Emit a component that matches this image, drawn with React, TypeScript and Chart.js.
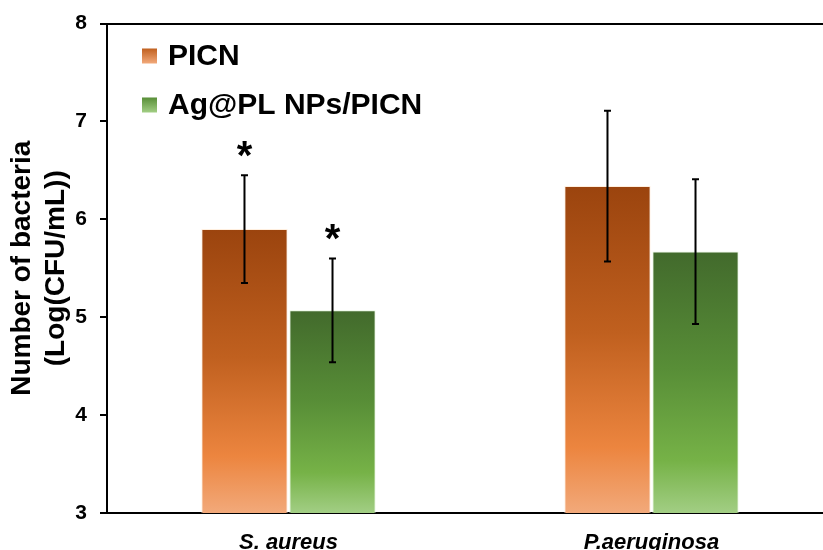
import React, { useEffect, useRef } from "react";
import { Chart, registerables } from "chart.js";

Chart.register(...registerables);

const categories = ["S. aureus", "P.aeruginosa"];
const seriesNames = ["PICN", "Ag@PL NPs/PICN"];
const picnValues = [5.9, 6.34];
const picnErrors = [0.55, 0.77];
const agValues = [5.07, 5.67];
const agErrors = [0.53, 0.74];
const picnMarks = ["*", ""];
const agMarks = ["*", ""];
const yTicks = [3, 4, 5, 6, 7, 8];
const yTitle = ["Number of bacteria", "(Log(CFU/mL))"];

const FONT = "'Liberation Sans', Arial, sans-serif";

const orangeStops: [number, string][] = [
  [0, "#9B440E"],
  [0.45, "#C0601F"],
  [0.8, "#EC853F"],
  [1, "#F2A97A"],
];
const greenStops: [number, string][] = [
  [0, "#426A2C"],
  [0.45, "#588E37"],
  [0.8, "#76B247"],
  [1, "#A2CE84"],
];

function barGradient(ctx: any, stops: [number, string][], fallback: string) {
  const chart = ctx.chart;
  const y = chart.scales && chart.scales.y;
  if (!y || ctx.raw === undefined || ctx.type !== "data") return fallback;
  const top = y.getPixelForValue(ctx.raw);
  const bottom = y.getPixelForValue(y.min);
  if (!isFinite(top) || !isFinite(bottom) || bottom - top < 1) return fallback;
  const g = chart.ctx.createLinearGradient(0, top, 0, bottom);
  stops.forEach(([o, c]) => g.addColorStop(o, c));
  return g;
}

const errorBarPlugin = {
  id: "errorBars",
  afterDatasetsDraw(chart: any) {
    const ctx = chart.ctx;
    const y = chart.scales.y;
    chart.data.datasets.forEach((ds: any, di: number) => {
      const meta = chart.getDatasetMeta(di);
      meta.data.forEach((bar: any, i: number) => {
        const v = ds.data[i];
        const e = ds.errors[i];
        const x = bar.x;
        const yt = y.getPixelForValue(v + e);
        const yb = y.getPixelForValue(v - e);
        ctx.save();
        ctx.strokeStyle = "#000";
        ctx.lineWidth = 2;
        ctx.beginPath();
        ctx.moveTo(x, yt);
        ctx.lineTo(x, yb);
        ctx.moveTo(x - 3.5, yt);
        ctx.lineTo(x + 3.5, yt);
        ctx.moveTo(x - 3.5, yb);
        ctx.lineTo(x + 3.5, yb);
        ctx.stroke();
        const mark = ds.marks[i];
        if (mark) {
          ctx.fillStyle = "#000";
          ctx.font = `bold 40px ${FONT}`;
          ctx.textAlign = "center";
          ctx.textBaseline = "alphabetic";
          ctx.fillText(mark, x, yt - 6);
        }
        ctx.restore();
      });
    });
  },
};

const legendPlugin = {
  id: "innerLegend",
  afterDraw(chart: any) {
    const ctx = chart.ctx;
    const left = chart.chartArea.left;
    const top = chart.chartArea.top;
    chart.data.datasets.forEach((ds: any, i: number) => {
      const sx = left + 35;
      const sy = top + 25 + i * 49;
      const stops = i === 0 ? orangeStops : greenStops;
      const g = ctx.createLinearGradient(0, sy, 0, sy + 15);
      g.addColorStop(0, stops[1][1]);
      g.addColorStop(1, stops[3][1]);
      ctx.save();
      ctx.fillStyle = g;
      ctx.fillRect(sx, sy, 15, 15);
      ctx.fillStyle = "#000";
      ctx.font = `bold 30px ${FONT}`;
      ctx.textAlign = "left";
      ctx.textBaseline = "middle";
      ctx.fillText(ds.label, sx + 26, sy + 8);
      ctx.restore();
    });
  },
};

export default function App() {
  const ref = useRef<HTMLCanvasElement>(null);
  useEffect(() => {
    if (!ref.current) return;
    const chart = new Chart(ref.current, {
      type: "bar",
      data: {
        labels: categories,
        datasets: [
          {
            label: seriesNames[0],
            data: picnValues,
            errors: picnErrors,
            marks: picnMarks,
            backgroundColor: (c: any) => barGradient(c, orangeStops, "#D06A2A"),
            borderColor: "rgba(255,235,215,0.8)",
            borderWidth: 1,
            borderSkipped: false,
          } as any,
          {
            label: seriesNames[1],
            data: agValues,
            errors: agErrors,
            marks: agMarks,
            backgroundColor: (c: any) => barGradient(c, greenStops, "#5E9A3C"),
            borderColor: "rgba(225,245,215,0.8)",
            borderWidth: 1,
            borderSkipped: false,
          } as any,
        ],
      },
      options: {
        responsive: false,
        animation: false,
        devicePixelRatio: 1,
        layout: { padding: { top: 23, right: 3, left: 0, bottom: 0 } },
        datasets: {
          bar: { categoryPercentage: 0.485, barPercentage: 0.98 },
        },
        plugins: {
          legend: { display: false },
          tooltip: { enabled: false },
        },
        scales: {
          x: {
            grid: { display: false, drawTicks: false },
            border: { color: "#000", width: 2 },
            ticks: {
              color: "#000",
              padding: 17,
              font: { family: FONT, size: 22, weight: "bold", style: "italic" },
            },
            afterFit: (s: any) => {
              s.height = 37;
            },
          },
          y: {
            min: 3,
            max: 8,
            afterBuildTicks: (s: any) => {
              s.ticks = yTicks.map((v) => ({ value: v }));
            },
            grid: {
              drawOnChartArea: true,
              color: (c: any) => (c.tick && c.tick.value === 8 ? "#000" : "rgba(0,0,0,0)"),
              lineWidth: 2,
              tickLength: 7,
              tickColor: "#000",
              tickWidth: 2,
            },
            border: { color: "#000", width: 2 },
            ticks: {
              color: "#000",
              padding: 13,
              font: { family: FONT, size: 21, weight: "bold", lineHeight: 1 },
            },
            title: {
              display: true,
              text: yTitle,
              color: "#000",
              padding: { top: 5, bottom: 6 },
              font: { family: FONT, size: 28, weight: "bold", lineHeight: 1.22 },
            },
            afterFit: (s: any) => {
              s.width = 107;
            },
          },
        },
      },
      plugins: [errorBarPlugin, legendPlugin],
    } as any);
    return () => chart.destroy();
  }, []);
  return (
    <div
      style={{
        position: "fixed",
        left: 0,
        top: 0,
        width: 823,
        height: 550,
        overflow: "hidden",
        background: "#fff",
      }}
    >
      <canvas ref={ref} width={836} height={550} style={{ display: "block" }} />
    </div>
  );
}
